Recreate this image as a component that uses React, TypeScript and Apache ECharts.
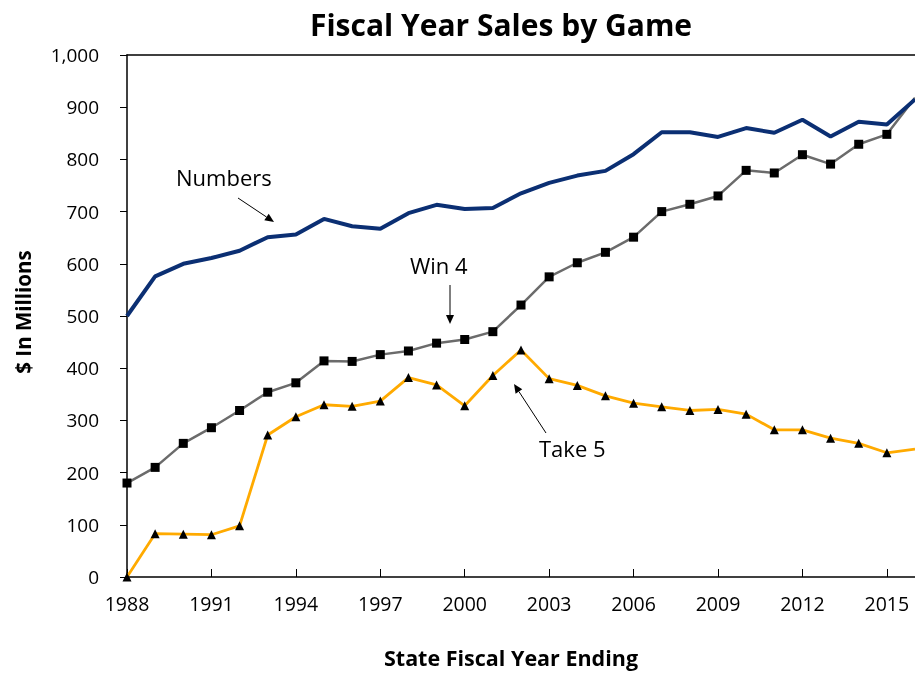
import React, { useEffect, useRef } from "react";
import * as echarts from "echarts";

const years = [1988,1989,1990,1991,1992,1993,1994,1995,1996,1997,1998,1999,2000,2001,2002,2003,2004,2005,2006,2007,2008,2009,2010,2011,2012,2013,2014,2015,2016];
const numbers = [500,576,600,611,625,651,656,686,672,667,697,713,705,707,735,755,769,778,810,852,852,843,860,851,876,844,872,867,915];
const win4 = [180,210,256,286,319,354,372,414,413,426,433,448,455,470,521,575,602,622,651,700,714,730,779,774,809,791,829,848,918];
const take5 = [0,83,82,81,98,272,307,330,327,337,382,368,328,386,435,380,367,347,333,326,319,321,312,282,282,266,256,238,245];
const xTicks = [1988,1991,1994,1997,2000,2003,2006,2009,2012,2015];

const FONT = "'Open Sans', 'Noto Sans', sans-serif";

function arrow(x1: number, y1: number, x2: number, y2: number) {
  const ang = Math.atan2(y2 - y1, x2 - x1);
  const L = 9, W = 4;
  const bx = x2 - L * Math.cos(ang), by = y2 - L * Math.sin(ang);
  const px = -Math.sin(ang) * W, py = Math.cos(ang) * W;
  return [
    { type: "line", shape: { x1, y1, x2: bx, y2: by }, style: { stroke: "#000", lineWidth: 1 } },
    { type: "polygon", shape: { points: [[x2, y2], [bx + px, by + py], [bx - px, by - py]] }, style: { fill: "#000" } },
  ];
}

export default function App() {
  const ref = useRef<HTMLDivElement>(null);
  useEffect(() => {
    if (!ref.current) return;
    const chart = echarts.init(ref.current, null, { renderer: "svg" });
    const lastYear = years[years.length - 1];
    const toItems = (arr: number[]) =>
      years.map((y, i) => (y === lastYear ? { value: [y, arr[i]], symbol: "none" } : { value: [y, arr[i]] }));
    chart.setOption({
      animation: false,
      title: {
        text: "Fiscal Year Sales by Game",
        left: 496, top: 4, textAlign: "center",
        textStyle: { fontFamily: FONT, fontWeight: "bold", fontSize: 30, color: "#000" },
      },
      grid: { left: 127, top: 55, width: 791, height: 523 },
      xAxis: [
        {
          type: "value", min: 1988, max: 2016, interval: 1,
          name: "State Fiscal Year Ending", nameLocation: "middle", nameGap: 69,
          nameTextStyle: { fontFamily: FONT, fontWeight: "bold", fontSize: 21.5, color: "#000", padding: [0, 20, 0, 0] },
          axisLine: { show: true, lineStyle: { color: "#000", width: 1.5 } },
          axisTick: { show: true, inside: true, length: 8, lineStyle: { color: "#000" }, customValues: xTicks },
          axisLabel: { show: true, customValues: xTicks, margin: 16, fontFamily: FONT, fontSize: 19.5, color: "#000", formatter: (v: number) => String(v) },
          splitLine: { show: false },
        },
        {
          type: "value", min: 1988, max: 2016, position: "top",
          axisLine: { show: true, onZero: false, lineStyle: { color: "#000", width: 1.5 } },
          axisTick: { show: false }, axisLabel: { show: false }, splitLine: { show: false },
        },
      ],
      yAxis: {
        type: "value", min: 0, max: 1000, interval: 100,
        name: "$ In Millions", nameLocation: "middle", nameGap: 94,
        nameTextStyle: { fontFamily: FONT, fontWeight: "bold", fontSize: 20.5, color: "#000", padding: [0, 0, 0, 8] },
        axisLine: { show: true, lineStyle: { color: "#000", width: 1.5 } },
        axisTick: { show: true, length: 7, lineStyle: { color: "#000" } },
        axisLabel: { margin: 28, fontFamily: FONT, fontSize: 19, color: "#000", formatter: (v: number) => v.toLocaleString("en-US") },
        splitLine: { show: false },
      },
      series: [
        {
          name: "Take 5", type: "line", data: toItems(take5),
          lineStyle: { color: "#FFAA00", width: 2.8 }, itemStyle: { color: "#000" },
          symbol: "triangle", symbolSize: 9, showSymbol: true, clip: true, z: 3,
        },
        {
          name: "Win 4", type: "line", data: toItems(win4),
          lineStyle: { color: "#6b6b6b", width: 2.5 }, itemStyle: { color: "#000" },
          symbol: "rect", symbolSize: 9, showSymbol: true, clip: true, z: 4,
        },
        {
          name: "Numbers", type: "line", data: toItems(numbers),
          lineStyle: { color: "#0b2f73", width: 4 }, symbol: "none", clip: true, z: 5,
        },
      ],
      graphic: [
        { type: "text", left: 176, top: 166, style: { text: "Numbers", font: `22px ${FONT}`, fill: "#000" } },
        { type: "text", left: 410, top: 254, style: { text: "Win 4", font: `22px ${FONT}`, fill: "#000" } },
        { type: "text", left: 539, top: 437, style: { text: "Take 5", font: `22px ${FONT}`, fill: "#000" } },
        ...arrow(238, 198, 274, 222),
        ...arrow(450, 285, 450, 324),
        ...arrow(546, 433, 514, 384),
      ],
    });
    return () => chart.dispose();
  }, []);
  return <div ref={ref} style={{ position: "fixed", left: 0, top: 0, width: 915, height: 673 }} />;
}
